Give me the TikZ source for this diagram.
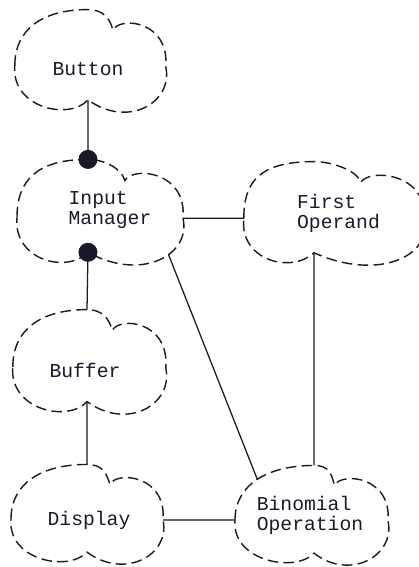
\documentclass[tikz,border=0pt]{standalone}
\usepackage{fontspec}
\setmonofont{Liberation Mono}

\definecolor{ink}{rgb}{0.1,0.1,0.16}

\tikzset{
    cloudline/.style={draw=ink, line width=1pt, dash pattern=on 7.5pt off 3.8pt},
    link/.style={draw=ink, line width=0.9pt},
    lbl/.style={text=ink, font=\ttfamily\fontsize{14}{14.3}\selectfont, align=left, inner sep=0pt},
    % cloud in unit coordinates, #1 = x of the top peak and the bottom cusp
    cloud/.pic={
        \draw[cloudline] (-1,0.1) coordinate (-w)
            .. controls (-1,-0.6) and (#1-0.6,-0.97) .. (#1,-0.97)
                coordinate (-n) coordinate[pos=0.5] (-nw)
            .. controls (#1+0.2,-0.97) and (0.26,-0.8) .. (0.3,-0.58)
            .. controls (0.4,-0.85) and (1.05,-0.75) .. (1,0.12) coordinate (-e)
            .. controls (1.1,0.8) and (0.5,1.3) .. (#1,0.75)
                coordinate (-s) coordinate[pos=0.4] (-se)
            .. controls (#1-0.25,1.15) and (-1.05,0.9) .. (-1,0.1) -- cycle;
    }
}

\begin{document}
\begin{tikzpicture}[x=0.025cm, y=-0.025cm]

    \useasboundingbox (0,0) rectangle (419,567);

    % --- Clouds ---
    \pic[xscale=75.5, yscale=52.5] (btn)  at (90.3,60.5)  {cloud=-0.03};
    \pic[xscale=83,   yscale=54]   (im)   at (100,211.8)  {cloud=-0.145};
    \pic[xscale=76.5, yscale=53.5] (buf)  at (89.3,361.5) {cloud=-0.03};
    \pic[xscale=76,   yscale=51]   (disp) at (87,513.9)   {cloud=0};
    \pic[xscale=90,   yscale=53]   (fo)   at (333.8,213)  {cloud=-0.22};
    \pic[xscale=76.5, yscale=51]   (bo)   at (311.5,514.9) {cloud=0.033};

    % --- Labels ---
    \node[lbl] (btn-t)  at (88,69)    {Button};
    \node[lbl] (im-t)   at (110,210)  {Input\\Manager};
    \node[lbl] (buf-t)  at (85,370)   {Buffer};
    \node[lbl] (disp-t) at (89,520)   {Display};
    \node[lbl] (fo-t)   at (338.5,213) {First\\Operand};
    \node[lbl] (bo-t)   at (310,515)  {Binomial\\Operation};

    % --- Relations ---
    \draw[link] (btn-s) -- (im-n);
    \draw[link] (im-s) -- (buf-n);
    \draw[link] (buf-s) -- (disp-n);
    \draw[link] (im-e) -- (fo-w);
    \draw[link] (im-se) -- (bo-nw);
    \draw[link] (fo-s) -- (bo-n);
    \draw[link] (disp-e) -- (bo-w);

    % has-a dots on Input Manager
    \fill[ink] (im-n) circle (9.5);
    \fill[ink] (im-s) circle (9.5);

\end{tikzpicture}
\end{document}
